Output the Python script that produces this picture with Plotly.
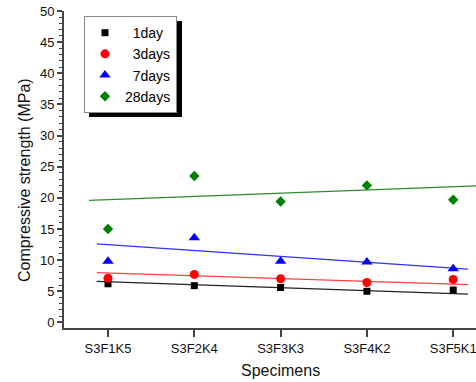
import plotly.graph_objects as go

categories = ["S3F1K5", "S3F2K4", "S3F3K3", "S3F4K2", "S3F5K1"]
series_names = ["1day", "3days", "7days", "28days"]
day1 = [6.2, 5.9, 5.6, 5.0, 5.2]
day3 = [7.1, 7.7, 7.0, 6.4, 6.9]
day7 = [9.8, 13.6, 9.8, 9.7, 8.6]
day28 = [15.0, 23.5, 19.4, 22.0, 19.7]

# trend lines (start/end position in category index, and value)
trend_x_start = [-0.13, -0.13, -0.13, -0.22]
trend_x_end = [4.17, 4.17, 4.17, 4.4]
trend_y_start = [6.6, 8.0, 12.6, 19.6]
trend_y_end = [4.55, 6.05, 8.55, 22.0]

colors = ["#000000", "#ff0000", "#0000ff", "#007f00"]
line_colors = ["#222222", "#ff4040", "#3030ff", "#2e8b2e"]
symbols = ["square", "circle", "triangle-up", "diamond"]
sizes = [7, 9, 10, 8]
labels = ["\u00a0\u00a01day", "\u00a0\u00a03days", "\u00a0\u00a07days", "28days"]

xs = list(range(len(categories)))
fig = go.Figure()
for i, vals in enumerate([day1, day3, day7, day28]):
    fig.add_trace(go.Scatter(
        x=[trend_x_start[i], trend_x_end[i]], y=[trend_y_start[i], trend_y_end[i]],
        mode="lines", line=dict(color=line_colors[i], width=1.2),
        showlegend=False, hoverinfo="skip"))
for i, vals in enumerate([day1, day3, day7, day28]):
    fig.add_trace(go.Scatter(
        x=xs, y=vals, mode="markers", name=labels[i],
        marker=dict(symbol=symbols[i], size=sizes[i], color=colors[i], line=dict(width=0))))

font = "Arial, Liberation Sans, sans-serif"
LX, LY = 0.0485, 0.984
fig.update_layout(
    width=476, height=382,
    margin=dict(l=64, r=0, t=11, b=54),
    paper_bgcolor="white", plot_bgcolor="white",
    font=dict(family=font, color="#111111", size=13),
    showlegend=True,
    legend=dict(x=LX, y=LY, xanchor="left", yanchor="top",
                bgcolor="white", bordercolor="#888888", borderwidth=1,
                font=dict(size=14, family=font, color="#000000"),
                tracegroupgap=0, itemwidth=30),
    xaxis=dict(range=[-0.51, 4.264], tickvals=xs, ticktext=categories,
               showgrid=False, zeroline=False, showline=True, linecolor="#444444",
               linewidth=2, ticks="outside", ticklen=7, tickcolor="#444444",
               tickwidth=1.5, tickfont=dict(size=13, color="#111111"),
               ticklabeloverflow="allow"),
    yaxis=dict(range=[-0.9, 50], tickvals=list(range(0, 51, 5)),
               showgrid=False, zeroline=False, showline=True, linecolor="#444444",
               linewidth=2, ticks="outside", ticklen=5, tickcolor="#444444",
               tickwidth=1.5, tickfont=dict(size=13, color="#111111"),
               minor=dict(dtick=1, ticks="outside", ticklen=3, tickcolor="#444444",
                          tickwidth=1, showgrid=False)),
    annotations=[
        dict(text="Specimens", xref="x", yref="paper", x=2, y=-0.1325,
             showarrow=False, font=dict(size=16, family=font, color="#111111"),
             xanchor="center", yanchor="middle"),
        dict(text="Compressive strength (MPa)", xref="paper", yref="paper",
             x=0, xshift=-39, y=0.467, textangle=-90, showarrow=False,
             font=dict(size=16, family=font, color="#111111"),
             xanchor="center", yanchor="middle"),
    ],
    shapes=[dict(type="rect", xref="paper", yref="paper", xsizemode="pixel",
                 ysizemode="pixel", xanchor=LX, yanchor=LY,
                 x0=5, x1=98, y0=-5, y1=-101, fillcolor="black",
                 line=dict(width=0), layer="below")],
)
fig.write_html("out.html")
